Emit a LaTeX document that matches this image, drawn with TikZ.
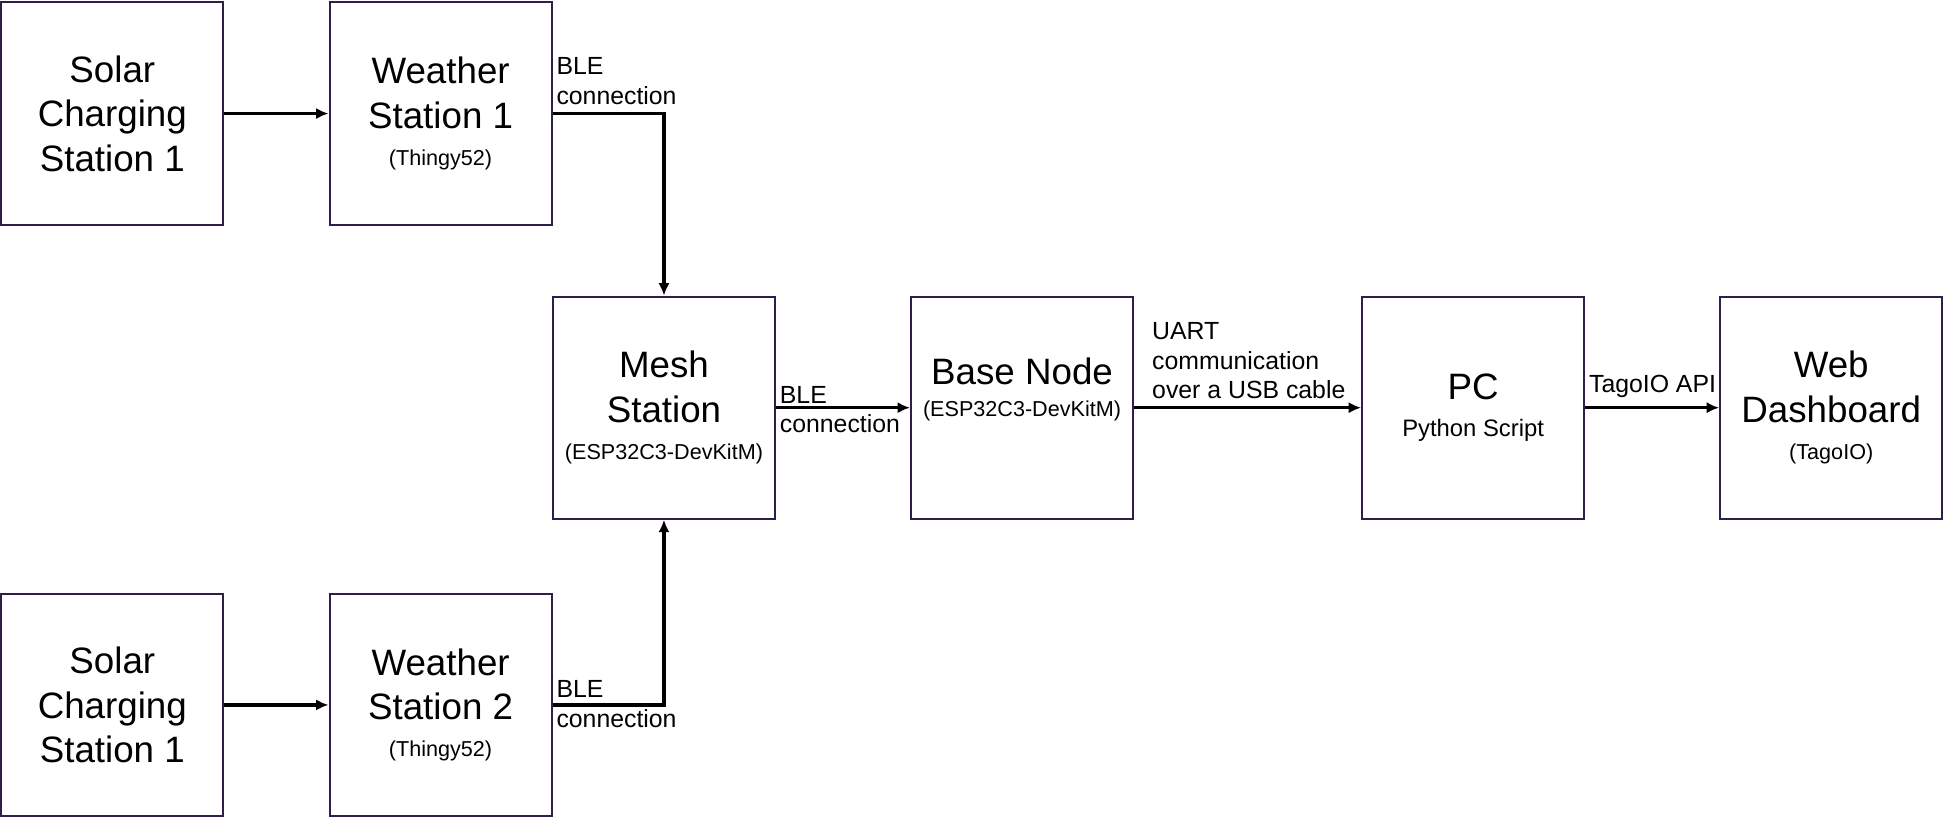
\documentclass[tikz,border=0pt]{standalone}
\usepackage{fontspec}
\setmainfont{Liberation Sans}
\usetikzlibrary{arrows.meta}
\definecolor{boxline}{RGB}{48,30,72}
\newcommand{\subtxt}[1]{{\fontsize{8.7}{10}\selectfont #1}}
\begin{document}
\begin{tikzpicture}
	[x=0.5pt,y=-0.5pt,
	 box/.style={rectangle,draw=boxline,line width=0.8pt,minimum width=89.5pt,minimum height=89.5pt,align=center,inner sep=0pt,font=\fontsize{14.8}{18}\selectfont},
	 lbl/.style={align=left,inner sep=0pt,font=\fontsize{10}{12}\selectfont},
	 link/.style={->,line width=1.3pt},
	 >={Latex[length=5pt,width=4.5pt]}]
	\useasboundingbox (0,0) rectangle (1568,659);
	% boxes
	\node[box,name=sol1]at(90.5,91.5){Solar\\Charging\\Station 1};
	\node[box,name=ws1]at(355,91.5){Weather\\Station 1\\[-3pt]\subtxt{(Thingy52)}};
	\node[box,name=sol2]at(90.5,568){Solar\\Charging\\Station 1};
	\node[box,name=ws2]at(355,568){Weather\\Station 2\\[-3pt]\subtxt{(Thingy52)}};
	\node[box,name=mesh]at(535,328.5){Mesh\\Station\\[-3pt]\subtxt{(ESP32C3-DevKitM)}};
	\node[box,name=base]at(823.5,328.5){};
	\node[align=center,inner sep=0pt,font=\fontsize{14.8}{18}\selectfont,name=basetxt]at(823.5,314){Base Node\\[-5pt]\subtxt{(ESP32C3-DevKitM)}};
	\node[box,name=pc]at(1187,328.5){PC\\[-3pt]{\fontsize{9.6}{11}\selectfont Python Script}};
	\node[box,name=web]at(1475.5,328.5){Web\\Dashboard\\[-3pt]\subtxt{(TagoIO)}};
	% connectors
	\draw[link](sol1) --(ws1);
	\draw[link](sol2) --(ws2);
	\draw[link](ws1.east) -|(mesh.north);
	\draw[link](ws2.east) -|(mesh.south);
	\draw[link](mesh) --(base);
	\draw[link](base) --(pc);
	\draw[link](pc) --(web);
	% labels
	\node[lbl,name=ble1,anchor=south west]at(448,85){BLE\\connection};
	\node[lbl,name=ble2,anchor=west]at(448,567){BLE\\connection};
	\node[lbl,name=ble3,anchor=west]at(628,330){BLE\\connection};
	\node[lbl,name=uart,anchor=south west]at(928,322){UART\\communication\\over a USB cable};
	\node[lbl,name=api,anchor=south west]at(1280,321){TagoIO API};
\end{tikzpicture}
\end{document}
